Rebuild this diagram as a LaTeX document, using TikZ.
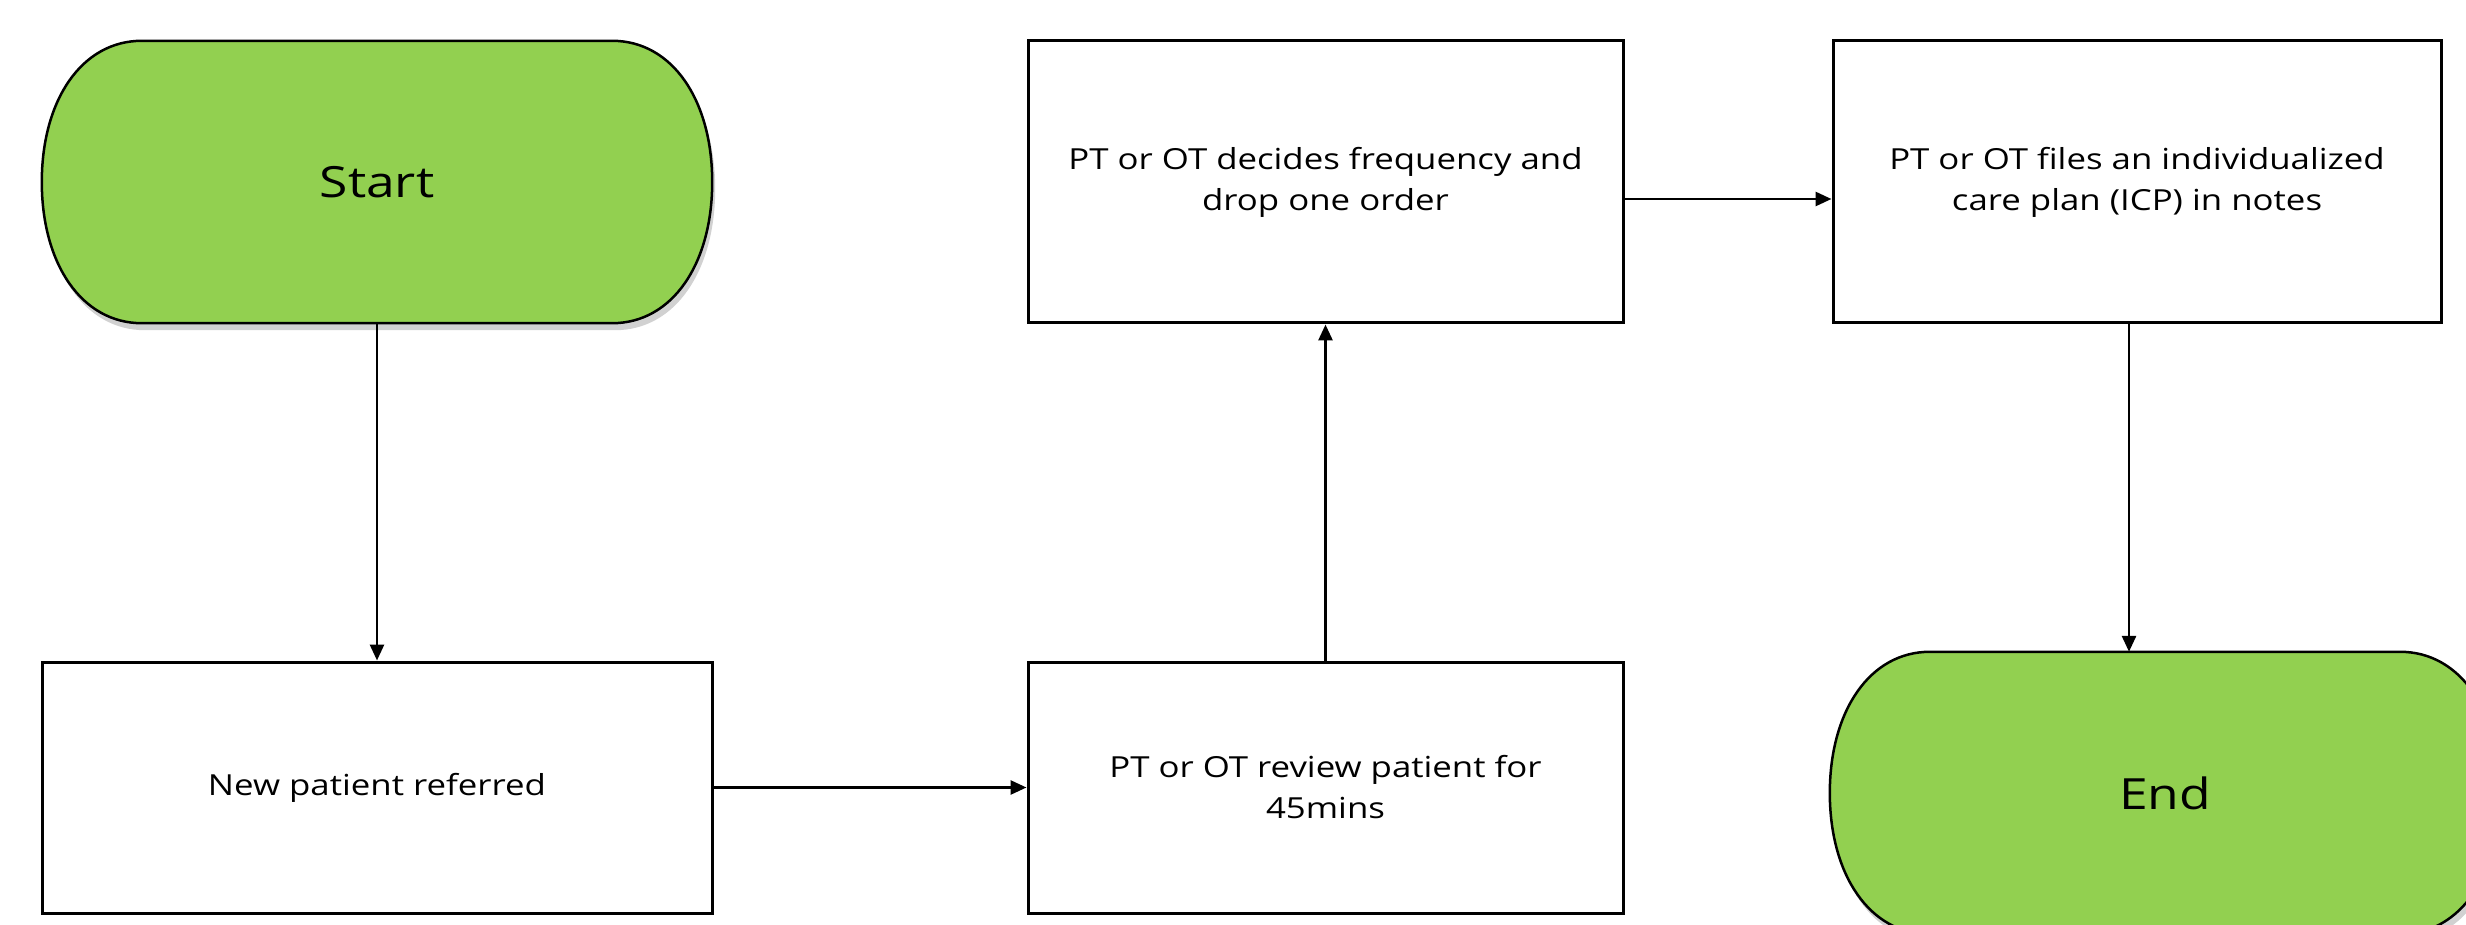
\documentclass[tikz,border=0pt]{standalone}
\usepackage{fontspec}
\setmainfont{Open Sans}
\newfontfamily\boxfont[FakeStretch=1.2]{Open Sans}
\usetikzlibrary{arrows.meta,calc,backgrounds}
\definecolor{termgreen}{RGB}{146,208,80}
\tikzset{
  stepbox/.style={draw=black, line width=3pt, fill=white, align=center,
    font=\boxfont\fontsize{29}{41}\selectfont, inner sep=0pt},
  termnode/.style={draw=none, align=center, inner sep=0pt,
    minimum width=670pt, minimum height=282pt, font=\boxfont\fontsize{43}{50}\selectfont},
  termfill/.style={draw=black, line width=2.5pt, fill=termgreen},
  termshadow/.style={fill=black, opacity=0.18},
  conn/.style={line width=2.8pt, -{Triangle[length=16pt,width=14pt]}},
}
\newcommand\termshape[3]{%
  \path[#2] let \p1=($(#1.north west)+#3$), \p2=($(#1.south east)+#3$), \p3=($(#1.center)+#3$) in
    (\x1+100pt,\y1) -- (\x2-100pt,\y1)
    .. controls (\x2-40pt,\y1) and (\x2,\y3+82pt) .. (\x2,\y3)
    .. controls (\x2,\y3-82pt) and (\x2-40pt,\y2) .. (\x2-100pt,\y2)
    -- (\x1+100pt,\y2)
    .. controls (\x1+40pt,\y2) and (\x1,\y3-82pt) .. (\x1,\y3)
    .. controls (\x1,\y3+82pt) and (\x1+40pt,\y1) .. cycle;}
\begin{document}
\begin{tikzpicture}[x=1pt,y=-1pt]
\useasboundingbox (0,0) rectangle (2466,925);

\node[termnode] (start) at (377,182) {Start};
\node[termnode] (stop) at (2165,793) {End};
\begin{pgfonlayer}{background}
  \termshape{start}{termshadow}{(3,7)}
  \termshape{start}{termfill}{(0,0)}
  \termshape{stop}{termshadow}{(3,7)}
  \termshape{stop}{termfill}{(0,0)}
\end{pgfonlayer}

\node[stepbox, minimum width=670pt, minimum height=251pt] (newp) at (377,787.5) {New patient referred};
\node[stepbox, minimum width=595pt, minimum height=251pt] (review) at (1325.5,787.5) {PT or OT review patient for\\45mins};
\node[stepbox, minimum width=595pt, minimum height=282pt] (decide) at (1325.5,182) {PT or OT decides frequency and\\drop one order};
\node[stepbox, minimum width=608pt, minimum height=282pt] (files) at (2137,182) {PT or OT files an individualized\\care plan (ICP) in notes};

\coordinate (d1) at ($(decide.east)+(0,17)$);
\coordinate (f1) at ($(files.south)+(-8,0)$);

\draw[conn] (start.south) -- (newp.north);
\draw[conn] (newp.east) -- (review.west);
\draw[conn] (review.north) -- (decide.south);
\draw[conn] (d1) -- (d1 -| files.west);
\draw[conn] (f1) -- (f1 |- stop.north);
\end{tikzpicture}
\end{document}
